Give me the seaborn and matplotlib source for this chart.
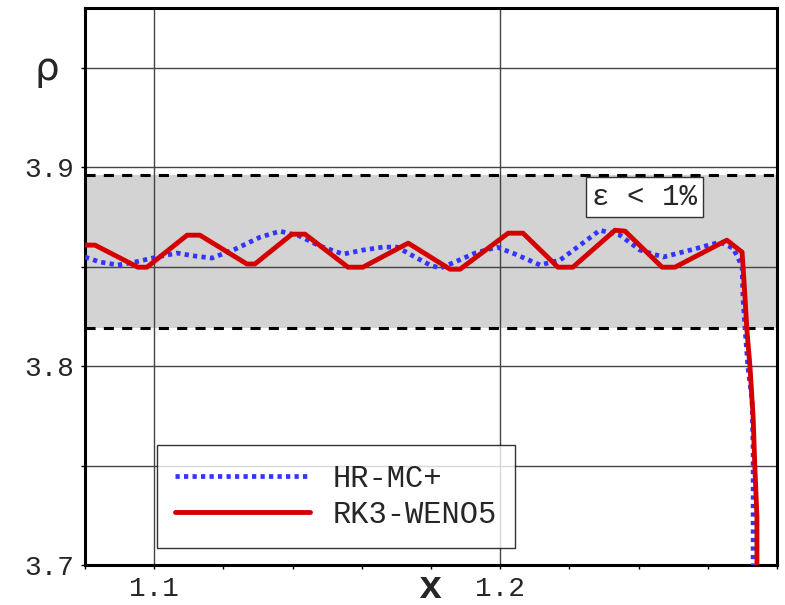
"""Density profile near the shock: HR-MC+ vs RK3-WENO5."""

import matplotlib
matplotlib.use("Agg")
import matplotlib.pyplot as plt
import pandas as pd
import seaborn as sns

# --- data ------------------------------------------------------------------
hr_x = [1.0800, 1.0843, 1.0895, 1.0945, 1.1008, 1.1066, 1.1118, 1.1167, 1.1234,
        1.1306, 1.1364, 1.1421, 1.1479, 1.1546, 1.1603, 1.1661, 1.1702, 1.1754,
        1.1797, 1.1826, 1.1869, 1.1927, 1.1991, 1.2043, 1.2115, 1.2173, 1.2231,
        1.2288, 1.2346, 1.2404, 1.2471, 1.2549, 1.2635, 1.2673, 1.2693, 1.2699,
        1.2702, 1.2708, 1.2716, 1.2728, 1.2731, 1.2731, 1.2731]
hr_rho = [3.8548, 3.8523, 3.8508, 3.8523, 3.8548, 3.8568, 3.8553, 3.8543, 3.8588,
          3.8648, 3.8678, 3.8653, 3.8603, 3.8563, 3.8583, 3.8598, 3.8598, 3.8548,
          3.8508, 3.8492, 3.8523, 3.8568, 3.8598, 3.8563, 3.8508, 3.8533, 3.8608,
          3.8683, 3.8658, 3.8583, 3.8548, 3.8583, 3.8623, 3.8593, 3.8523, 3.8497,
          3.8332, 3.8181, 3.7995, 3.7829, 3.7578, 3.7000, 3.6800]

weno_x = [1.0800, 1.0829, 1.0953, 1.0979, 1.1095, 1.1132, 1.1268, 1.1291, 1.1398,
          1.1436, 1.1560, 1.1603, 1.1734, 1.1855, 1.1884, 1.2023, 1.2066, 1.2167,
          1.2210, 1.2332, 1.2361, 1.2468, 1.2505, 1.2655, 1.2699, 1.2702, 1.2708,
          1.2713, 1.2722, 1.2731, 1.2736, 1.2742, 1.2742, 1.2742]
weno_rho = [3.8608, 3.8608, 3.8497, 3.8497, 3.8658, 3.8658, 3.8513, 3.8513, 3.8663,
            3.8663, 3.8497, 3.8497, 3.8618, 3.8487, 3.8487, 3.8668, 3.8668, 3.8497,
            3.8497, 3.8683, 3.8678, 3.8497, 3.8497, 3.8633, 3.8573, 3.8497, 3.8332,
            3.8181, 3.7995, 3.7744, 3.7492, 3.7241, 3.7000, 3.6800]

band_low, band_high = 3.819, 3.896
band_label = "ε < 1%"
series_labels = ["HR-MC+", "RK3-WENO5"]

x_major = [1.1, 1.2]
x_minor = [1.08, 1.12, 1.14, 1.16, 1.18, 1.22, 1.24, 1.26, 1.28]
y_major = [3.7, 3.8, 3.9]
y_minor = [3.75, 3.85, 3.95]

# --- plotting ---------------------------------------------------------------
sns.set_theme(style="white")
plt.rcParams["font.family"] = ["Liberation Mono", "DejaVu Sans Mono", "DejaVu Sans"]

fig = plt.figure(figsize=(7.85, 6.05), dpi=100)
ax = fig.add_axes([0.1083, 0.0661, 0.8815, 0.9207])

hr = pd.DataFrame({"x": hr_x, "rho": hr_rho})
weno = pd.DataFrame({"x": weno_x, "rho": weno_rho})

ax.axhspan(band_low, band_high, color="#d3d3d3", zorder=0.2, lw=0)
for yv in (band_low, band_high):
    ax.axhline(yv, color="black", lw=2.2, linestyle=(0, (3.3, 2.7)), zorder=1)

sns.lineplot(data=hr, x="x", y="rho", ax=ax, sort=False, estimator=None,
             color="#3434ff", lw=3.4, linestyle=(0, (0.9, 0.9)),
             label=series_labels[0], zorder=3)
sns.lineplot(data=weno, x="x", y="rho", ax=ax, sort=False, estimator=None,
             color="#d40000", lw=3.5, label=series_labels[1], zorder=4)

ax.set_xlim(1.08, 1.28)
ax.set_ylim(3.7, 3.98)
ax.set_xticks(x_major)
ax.set_xticks(x_minor, minor=True)
ax.set_yticks(y_major)
ax.set_yticks(y_minor, minor=True)
ax.set_xticklabels(["1.1", "1.2"])
ax.set_yticklabels(["3.7", "3.8", "3.9"])

ax.grid(True, which="major", axis="x", color="#444444", lw=1.0)
ax.grid(True, which="both", axis="y", color="#444444", lw=1.0)
ax.set_axisbelow(True)

ax.tick_params(which="both", direction="out", length=3, width=1, color="black",
               labelsize=20, bottom=True, left=True)
ax.tick_params(axis="x", pad=5)
ax.tick_params(axis="y", pad=5)
for sp in ax.spines.values():
    sp.set_color("black")
    sp.set_linewidth(2.2)

ax.set_xlabel("")
ax.set_ylabel("")
fig.text(47 / 785, 1 - 69 / 605, "ρ", fontsize=28, family="DejaVu Sans",
         ha="center", va="center")
fig.text(430 / 785, 1 - 598 / 605, "x", fontsize=28, fontweight="bold",
         ha="center", va="baseline")

ax.text(1.2418, 3.8849, band_label, fontsize=21, ha="center", va="center",
        bbox=dict(boxstyle="square,pad=0.2", fc="white", ec="#333333", lw=1),
        zorder=5)

leg = ax.legend(loc="lower left", bbox_to_anchor=(0.104, 0.0305),
                borderaxespad=0, fontsize=22, handlelength=4.4,
                handletextpad=0.75, borderpad=0.6, labelspacing=0.2,
                frameon=True, fancybox=False)
leg.get_frame().set_edgecolor("black")
leg.get_frame().set_linewidth(1)
leg.set_zorder(6)

fig.savefig("out.png", dpi=100)
